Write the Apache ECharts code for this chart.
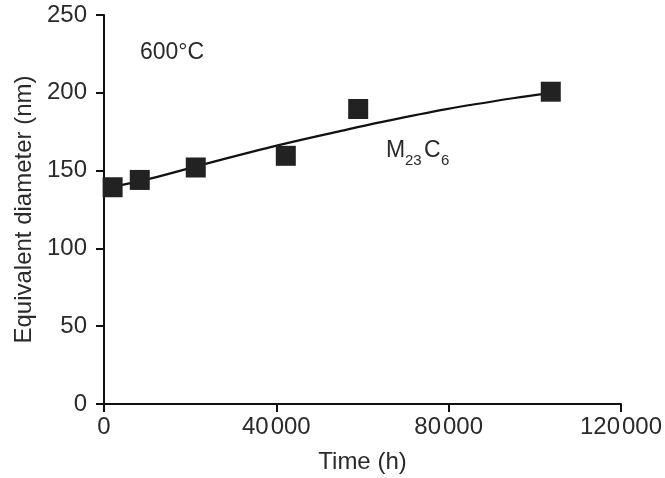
<!DOCTYPE html>
<html>
<head>
<meta charset="utf-8">
<script src="https://cdn.jsdelivr.net/npm/echarts@6/dist/echarts.min.js"></script>
<style>html,body{margin:0;padding:0;background:#fff}#c{width:665px;height:478px}</style>
</head>
<body>
<div id="c"></div>
<script>
// Measured data points (time in h, diameter in nm)
var pointTimes = [2000, 8300, 21300, 42200, 59000, 103700];
var pointDiameters = [139.3, 144, 152, 159.5, 189.6, 200.7];
// Fitted curve
var fitTimes = [2000, 10700, 23800, 40800, 55000, 64000, 79500, 94900, 104000];
var fitDiameters = [139.5, 144.8, 154.5, 166.5, 175.5, 181, 189.5, 196.5, 200];
var xTicks = [0, 40000, 80000, 120000];
var yTicks = [0, 50, 100, 150, 200, 250];

var font = 'Liberation Sans, Arial, Helvetica, sans-serif';
var txt = '#2a2a2a';

function pairs(xs, ys) { return xs.map(function (x, i) { return [x, ys[i]]; }); }

var chart = echarts.init(document.getElementById('c'), null, { renderer: 'canvas' });
chart.setOption({
  backgroundColor: '#fff',
  animation: false,
  grid: { left: 104, right: 44, top: 15, bottom: 74, containLabel: false, outerBoundsMode: 'none' },
  xAxis: {
    type: 'value', min: xTicks[0], max: xTicks[xTicks.length - 1], interval: xTicks[1] - xTicks[0],
    name: 'Time (h)', nameLocation: 'middle', nameGap: 46,
    nameTextStyle: { fontFamily: font, fontSize: 24, color: txt },
    axisLine: { show: true, onZero: false, lineStyle: { color: '#111', width: 2 } },
    axisTick: { show: true, inside: false, length: 8, lineStyle: { color: '#111', width: 2 } },
    axisLabel: {
      fontFamily: font, fontSize: 24, color: txt, margin: 11, hideOverlap: false,
      formatter: function (v) {
        if (v === 0) return '0';
        var s = String(v);
        return '{a|' + s.slice(0, s.length - 3) + '}{b|' + s.slice(-3) + '}';
      },
      rich: {
        a: { fontFamily: font, fontSize: 24, color: txt },
        b: { fontFamily: font, fontSize: 24, color: txt, padding: [0, 0, 0, 2] }
      }
    },
    splitLine: { show: false }
  },
  yAxis: {
    type: 'value', min: yTicks[0], max: yTicks[yTicks.length - 1], interval: yTicks[1] - yTicks[0],
    name: 'Equivalent diameter (nm)', nameLocation: 'middle', nameGap: 68,
    nameTextStyle: { fontFamily: font, fontSize: 24, color: txt },
    axisLine: { show: true, onZero: false, lineStyle: { color: '#111', width: 2 } },
    axisTick: { show: true, inside: false, length: 8, lineStyle: { color: '#111', width: 2 } },
    axisLabel: { fontFamily: font, fontSize: 24, color: txt, margin: 17 },
    splitLine: { show: false }
  },
  series: [
    {
      type: 'line', data: pairs(fitTimes, fitDiameters), smooth: 0.35,
      showSymbol: false, symbol: 'none',
      lineStyle: { color: '#111', width: 2.2 }, z: 2
    },
    {
      type: 'scatter', data: pairs(pointTimes, pointDiameters),
      symbol: 'rect', symbolSize: 20,
      itemStyle: { color: '#222', opacity: 1 }, z: 3
    }
  ],
  graphic: [
    { type: 'text', left: 140, top: 41, style: { text: '600°C', font: '23px ' + font, fill: txt } },
    { type: 'text', left: 386, top: 139, style: { text: 'M', font: '23px ' + font, fill: txt } },
    { type: 'text', left: 405, top: 153, style: { text: '23', font: '15px ' + font, fill: txt } },
    { type: 'text', left: 424, top: 139, style: { text: 'C', font: '23px ' + font, fill: txt } },
    { type: 'text', left: 441, top: 153, style: { text: '6', font: '15px ' + font, fill: txt } }
  ]
});
</script>
</body>
</html>
